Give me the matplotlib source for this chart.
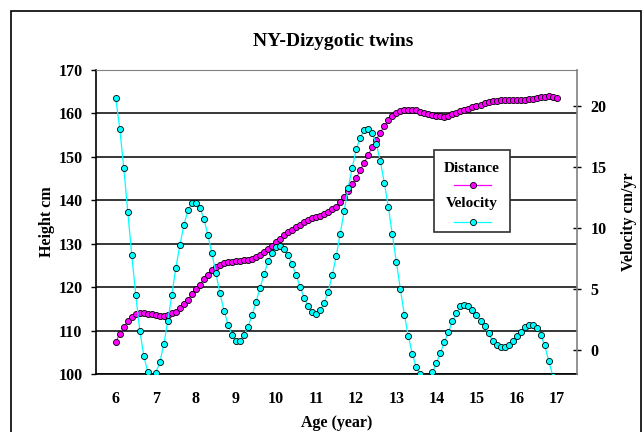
import numpy as np
import matplotlib
matplotlib.use('Agg')
import matplotlib.pyplot as plt
from matplotlib.patches import Rectangle
from matplotlib.lines import Line2D

plt.rcParams['font.family'] = 'Liberation Serif'
plt.rcParams['font.weight'] = 'bold'

# readings every 0.1 year, age 6.0 .. 17.0
height = [107.4, 109.3, 110.9, 112.2, 113.2, 113.8, 114.1, 114.1, 113.95, 113.8,
          113.6, 113.4, 113.4, 113.6, 114.0, 114.4, 115.2, 116.1, 117.15, 118.4,
          119.5, 120.6, 121.8, 122.9, 124.0, 124.7, 125.1, 125.5, 125.7, 125.9,
          126.0, 126.1, 126.15, 126.3, 126.5, 126.9, 127.4, 128.0, 128.8, 129.5,
          130.4, 131.15, 131.9, 132.6, 133.2, 133.8, 134.4, 135.0, 135.45, 135.8,
          136.1, 136.4, 136.8, 137.25, 137.85, 138.5, 139.5, 140.8, 142.2, 143.6,
          145.1, 146.9, 148.6, 150.4, 152.2, 153.9, 155.5, 157.0, 158.3, 159.3,
          160.0, 160.4, 160.6, 160.75, 160.75, 160.6, 160.3, 160.0, 159.8, 159.6,
          159.4, 159.25, 159.2, 159.4, 159.7, 160.0, 160.4, 160.7, 161.0, 161.3,
          161.6, 161.9, 162.2, 162.5, 162.7, 162.8, 162.9, 162.9, 162.9, 163.0,
          163.0, 163.05, 163.1, 163.2, 163.3, 163.4, 163.6, 163.75, 163.8, 163.75,
          163.4]
velocity = [20.65, 18.16, 14.95, 11.34, 7.75, 4.49, 1.59, -0.49, -1.84, -2.4,
            -1.86, -1.02, 0.49, 2.41, 4.54, 6.74, 8.60, 10.24, 11.45, 12.05,
            12.05, 11.67, 10.73, 9.40, 7.91, 6.27, 4.63, 3.23, 2.08, 1.20,
            0.76, 0.76, 1.20, 1.91, 2.84, 3.94, 5.09, 6.19, 7.28, 7.91,
            8.41, 8.52, 8.24, 7.75, 7.01, 6.13, 5.18, 4.27, 3.58, 3.12,
            2.96, 3.25, 3.86, 4.79, 6.13, 7.69, 9.53, 11.39, 13.31, 14.95,
            16.46, 17.42, 18.04, 18.10, 17.77, 16.87, 15.50, 13.72, 11.74, 9.47,
            7.24, 5.0, 2.90, 1.12, -0.36, -1.42, -1.96, -2.35, -2.35, -1.84,
            -1.07, -0.25, 0.66, 1.48, 2.35, 3.04, 3.58, 3.72, 3.58, 3.27,
            2.83, 2.41, 1.94, 1.37, 0.76, 0.38, 0.21, 0.21, 0.38, 0.71,
            1.12, 1.48, 1.86, 2.08, 2.08, 1.81, 1.26, 0.38, -0.88, -2.1,
            -3.5]
age = np.round(6.0 + 0.1 * np.arange(len(height)), 1)

age_ticks = list(range(6, 18))
height_ticks = list(range(100, 171, 10))
velocity_ticks = [0, 5, 10, 15, 20]

fig = plt.figure(figsize=(6.44, 4.32), dpi=100)
ax = fig.add_axes([95.7 / 644, 1 - 374.3 / 432, 481 / 644, 304.8 / 432])
ax2 = ax.twinx()

ax.plot(age, height, color='#FF00FF', lw=0.8, marker='o', ms=4.4,
        mfc='#FF00FF', mec='black', mew=0.6, zorder=3)
ax2.plot(age, velocity, color='#00FFFF', lw=0.9, marker='o', ms=4.4,
         mfc='#00FFFF', mec='black', mew=0.6, zorder=3)

ax.set_xlim(5.5, 17.5)
ax.set_ylim(100, 170)
ax2.set_ylim(-2, 23)
ax.set_xticks(age_ticks)
ax.set_yticks(height_ticks)
ax2.set_yticks(velocity_ticks)

ax.yaxis.grid(True, color='black', lw=1.1)
ax.get_ygridlines()[-1].set_visible(False)
ax.set_axisbelow(True)

for s in ['left', 'bottom']:
    ax.spines[s].set_color('black')
    ax.spines[s].set_linewidth(1.2)
ax.spines['top'].set_color('#808080')
ax.spines['right'].set_visible(False)
for s in ['left', 'bottom', 'top']:
    ax2.spines[s].set_visible(False)
ax2.spines['right'].set_color('#808080')
ax2.spines['right'].set_linewidth(1.2)

ax.tick_params(axis='x', length=0, pad=12, labelsize=11.5)
ax.tick_params(axis='y', direction='out', length=3.5, width=1, labelsize=11.5, pad=6)
ax2.tick_params(axis='y', direction='inout', length=6, width=1, labelsize=11.5, pad=7)

ax.set_xlabel('Age (year)', fontsize=11.5, fontweight='bold')
ax.xaxis.set_label_coords(0.5, -0.135)
ax.set_ylabel('Height cm', fontsize=11.5, fontweight='bold')
ax.yaxis.set_label_coords(-0.085, 0.5)
ax2.set_ylabel('Velocity cm/yr', fontsize=11.5, fontweight='bold', rotation=90)
ax2.yaxis.set_label_coords(1.092, 0.5)

fig.text(333 / 644, 1 - 42 / 432, 'NY-Dizygotic twins', ha='center', va='center',
         fontsize=14, fontweight='bold')

# legend box, Excel style: label above the sample
fig.add_artist(Rectangle((434 / 644, 1 - 232 / 432), 76 / 644, 82 / 432,
                         transform=fig.transFigure, facecolor='white',
                         edgecolor='#303030', lw=1.2, zorder=5))
for lab, col, ty, ly in [('Distance', '#FF00FF', 168, 185.3),
                         ('Velocity', '#00FFFF', 204, 221.7)]:
    fig.text(472 / 644, 1 - ty / 432, lab, ha='center', va='center',
             fontsize=11, fontweight='bold', zorder=6)
    fig.add_artist(Line2D([454 / 644, 491 / 644], [1 - ly / 432] * 2, color=col,
                          lw=0.9, transform=fig.transFigure, zorder=6))
    fig.add_artist(Line2D([472.5 / 644], [1 - ly / 432], marker='o', ms=4.4,
                          mfc=col, mec='black', mew=0.6,
                          transform=fig.transFigure, zorder=7))

# outer chart frame
fig.add_artist(Rectangle((11 / 644, -0.1), 630 / 644, 1.1 - 11 / 432,
                         transform=fig.transFigure, fill=False,
                         edgecolor='black', lw=1.2))

fig.savefig('out.png', dpi=100)
